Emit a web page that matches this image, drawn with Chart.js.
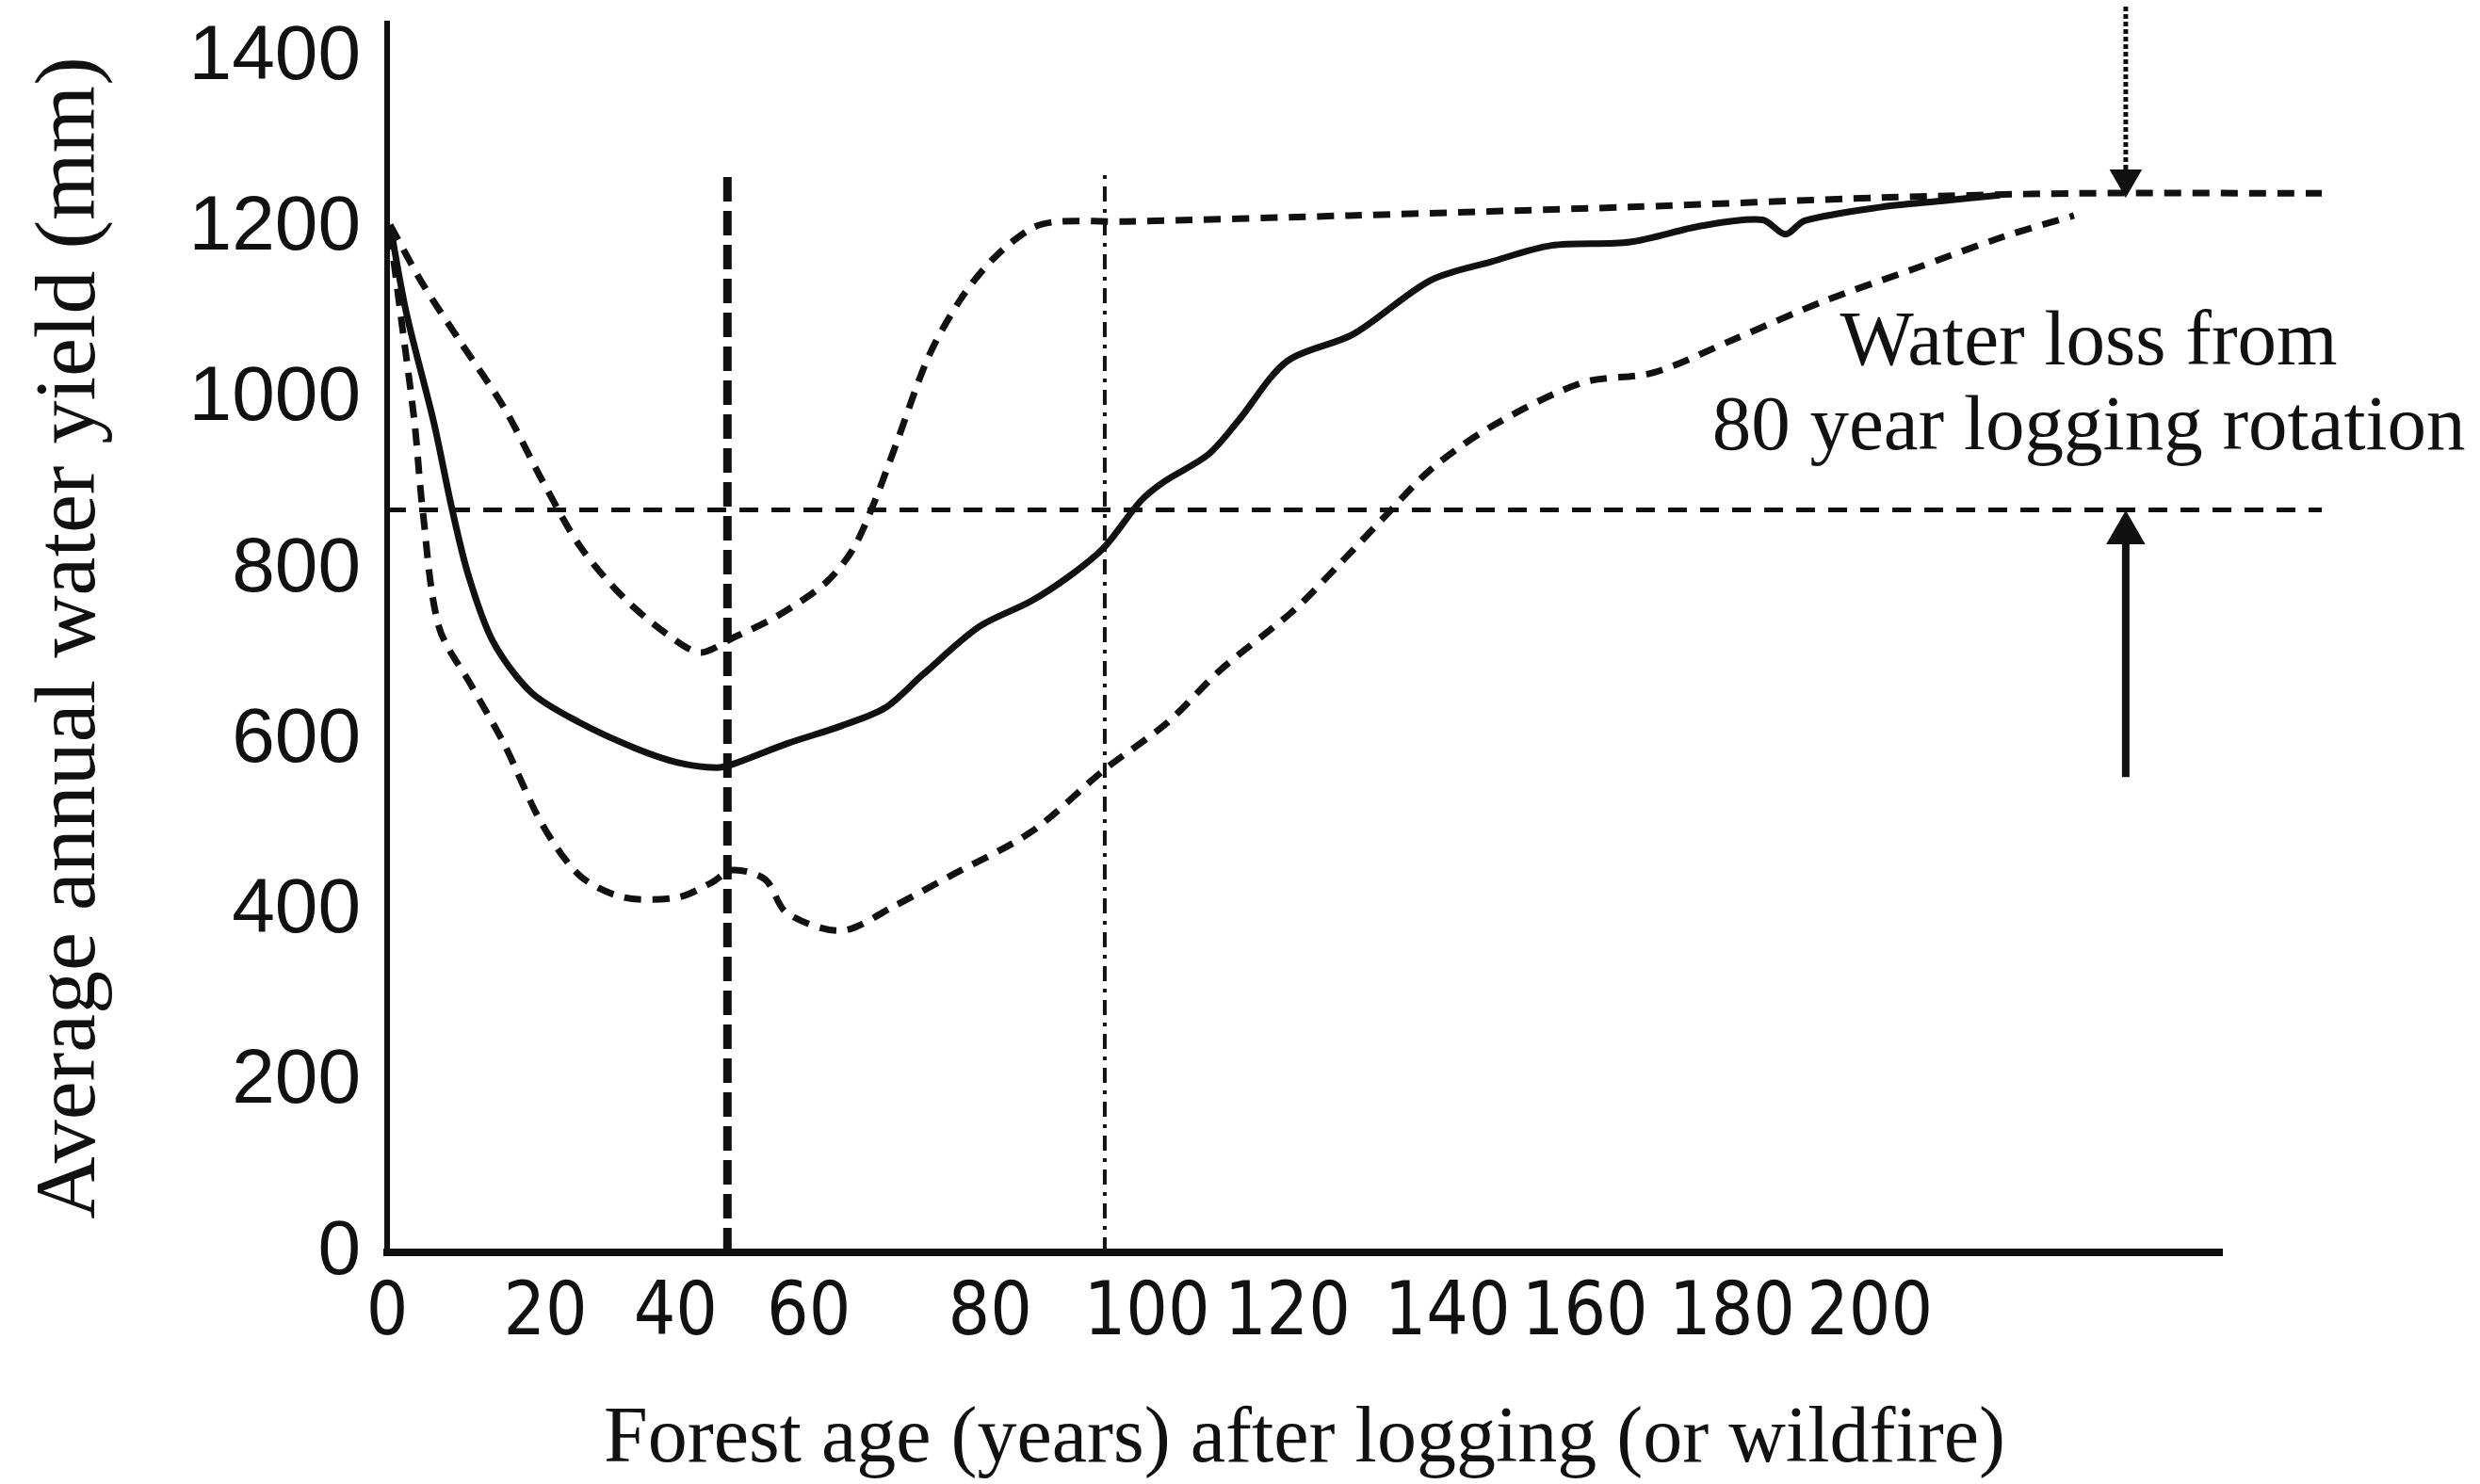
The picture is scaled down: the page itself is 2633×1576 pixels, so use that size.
<!DOCTYPE html>
<html>
<head>
<meta charset="utf-8">
<script src="https://cdn.jsdelivr.net/npm/chart.js@4.4.0/dist/chart.umd.min.js"></script>
<style>
html, body { margin: 0; padding: 0; background: #fff; }
#wrap { width: 2633px; height: 1576px; }
</style>
</head>
<body>
<div id="wrap"><canvas id="yieldChart"></canvas></div>
<script>
// mean curve (solid)
const meanAge = [0.4, 2.6, 6.3, 8.8, 11, 14.3, 19.5, 26, 33.5, 39.3, 44.5, 46.7, 54, 61.4, 67.3, 72.4, 80, 87, 92.3, 97, 101.8, 105, 111, 115, 121.6, 130.6, 141, 149.3, 157.4, 168, 177.7, 185.9, 189, 191.6, 202, 210, 218];
const meanYield = [1204, 1101, 973, 870, 793, 716, 656, 621, 591, 574, 568, 572, 596, 617, 638, 677, 733, 763, 793, 827, 880, 903, 935, 974, 1044, 1076, 1139, 1161, 1180, 1184, 1203, 1210, 1193, 1209, 1225, 1232, 1239];

// upper bound (dashed)
const upperAge = [0.4, 4.8, 9.9, 15.8, 21, 26.1, 32, 37.9, 42.3, 46.7, 52.6, 59.2, 62.9, 65.8, 68.8, 73.2, 77.6, 82, 87.1, 90.8, 100, 130, 168, 202, 228, 261.5];
const upperYield = [1204, 1135, 1067, 990, 904, 827, 767, 724, 703, 720, 745, 784, 823, 878, 947, 1050, 1118, 1165, 1200, 1208, 1208, 1215, 1225, 1236, 1241, 1241];

// lower bound (dashed)
const lowerAge = [0.4, 1.8, 3.7, 4.8, 7, 11.4, 15.8, 21, 26.1, 32, 39.3, 43.8, 46.7, 51.1, 54, 61.4, 68.8, 76.1, 87.1, 97, 105.5, 112.7, 122.5, 129, 134.6, 141, 149.3, 161.5, 171.2, 181.8, 194, 206.2, 218.4, 228];
const lowerYield = [1195, 1101, 973, 870, 733, 664, 596, 501, 441, 416, 416, 433, 448, 437, 398, 377, 407, 441, 493, 566, 621, 683, 752, 809, 860, 917, 968, 1019, 1031, 1069, 1114, 1152, 1190, 1215];

// reference lines
const minYieldAge = 46;
const rotationAge = 97;
const refLineTop = 1265;
const rotationYield = 870;
const refLineEnd = 261.5;

// arrows marking the water loss
const arrowAge = 235;
const topArrowYield = [1460, 1258];
const bottomArrowYield = [557, 843];

// axis ticks
const xTickLabels = ["0", "20", "40", "60", "80", "100", "120", "140", "160", "180", "200"];
const xTickAt = [0, 21.4, 39, 57, 81.5, 102.7, 121.7, 143.3, 161.9, 181.8, 200.4];
const yTicks = [0, 200, 400, 600, 800, 1000, 1200, 1400];

const noteLines = ["Water loss from", "80 year logging rotation"];
const noteAge = 230;
const noteYield = [1065, 965];

const ink = "#111";

function pts(xs, ys) {
    return xs.map((x, i) => ({ x: x, y: ys[i] }));
}

const notePlugin = {
    id: "note",
    afterDatasetsDraw(chart) {
        const ctx = chart.ctx;
        const xs = chart.scales.x, ys = chart.scales.y;
        ctx.save();
        ctx.fillStyle = ink;
        ctx.font = '83px "Liberation Serif", "Times New Roman", serif';
        ctx.textAlign = "center";
        ctx.textBaseline = "middle";
        noteLines.forEach((t, i) => {
            ctx.fillText(t, xs.getPixelForValue(noteAge), ys.getPixelForValue(noteYield[i]));
        });
        ctx.restore();
    }
};

const line = (data, width, dash, extra) => Object.assign({
    data: data,
    borderColor: ink,
    borderWidth: width,
    borderDash: dash,
    pointRadius: 0,
    tension: 0.3,
    fill: false,
    clip: false
}, extra || {});

new Chart(document.getElementById("yieldChart"), {
    type: "line",
    data: {
        datasets: [
            line(pts(meanAge, meanYield), 7, []),
            line(pts(upperAge, upperYield), 7, [18, 12]),
            line(pts(lowerAge, lowerYield), 7, [18, 12]),
            line([{ x: 0, y: rotationYield }, { x: refLineEnd, y: rotationYield }], 5, [20, 14], { tension: 0 }),
            line([{ x: minYieldAge, y: 0 }, { x: minYieldAge, y: refLineTop }], 9, [26, 10], { tension: 0 }),
            line([{ x: rotationAge, y: 0 }, { x: rotationAge, y: refLineTop }], 4, [16, 8, 4, 8], { tension: 0 }),
            line(pts([arrowAge, arrowAge], topArrowYield), 5, [5, 3], {
                tension: 0, pointRadius: [0, 15], pointStyle: "triangle", rotation: 180,
                pointBackgroundColor: ink, pointBorderColor: ink
            }),
            line(pts([arrowAge, arrowAge], bottomArrowYield), 8, [], {
                tension: 0, pointRadius: [0, 16], pointStyle: "triangle", rotation: 0,
                pointBackgroundColor: ink, pointBorderColor: ink
            })
        ]
    },
    options: {
        responsive: true,
        maintainAspectRatio: false,
        animation: false,
        events: [],
        layout: { padding: { top: 25, right: 274, left: 0, bottom: 0 } },
        plugins: { legend: { display: false }, tooltip: { enabled: false } },
        scales: {
            x: {
                type: "linear",
                min: 0,
                max: 248,
                grid: { display: false, drawTicks: false },
                border: { display: true, color: ink, width: 8 },
                afterBuildTicks(scale) {
                    scale.ticks = xTickAt.map(v => ({ value: v }));
                },
                afterFit(scale) {
                    scale.height = 246;
                    scale.paddingLeft = 0;
                    scale.paddingRight = 0;
                },
                ticks: {
                    color: ink,
                    padding: 20,
                    maxRotation: 0,
                    autoSkip: false,
                    font: { family: '"Liberation Sans Narrow", "DejaVu Sans Condensed", "Liberation Sans", sans-serif', size: 78 },
                    callback: (v, i) => xTickLabels[i]
                },
                title: {
                    display: true,
                    text: "Forest age (years) after logging (or wildfire)",
                    color: ink,
                    padding: { top: 0, bottom: 4 },
                    font: { family: '"Liberation Serif", "Times New Roman", serif', size: 84, lineHeight: 1 }
                }
            },
            y: {
                type: "linear",
                min: 0,
                max: 1440,
                grid: { display: false, drawTicks: false },
                border: { display: true, color: ink, width: 6 },
                afterBuildTicks(scale) {
                    scale.ticks = yTicks.map(v => ({ value: v }));
                },
                afterFit(scale) {
                    scale.width = 411;
                    scale.paddingTop = 0;
                    scale.paddingBottom = 0;
                },
                ticks: {
                    color: ink,
                    padding: 28,
                    font: { family: '"Liberation Sans", Arial, sans-serif', size: 82 },
                    callback: v => String(v)
                },
                title: {
                    display: true,
                    text: "Average annual water yield (mm)",
                    color: ink,
                    padding: { top: 21, bottom: 0 },
                    font: { family: '"Liberation Serif", "Times New Roman", serif', size: 92, lineHeight: 1.2 }
                }
            }
        }
    },
    plugins: [notePlugin]
});
</script>
</body>
</html>
